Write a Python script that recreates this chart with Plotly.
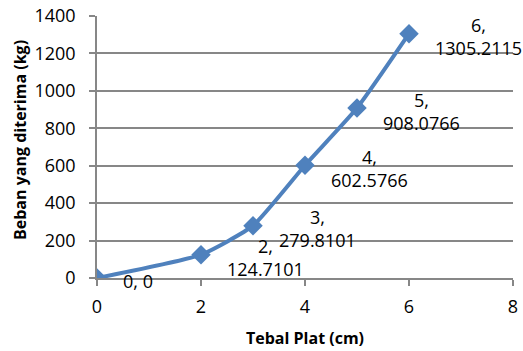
import plotly.graph_objects as go

tebal = [0, 2, 3, 4, 5, 6]
beban = [0, 124.7101, 279.8101, 602.5766, 908.0766, 1305.2115]
labels = ["0, 0", "2,<br>124.7101", "3,<br>279.8101", "4,<br>602.5766",
          "5,<br>908.0766", "6,<br>1305.2115"]
x_ticks = [0, 2, 4, 6, 8]
y_ticks = [0, 200, 400, 600, 800, 1000, 1200, 1400]

FONT = "'Open Sans', sans-serif"
BLUE = "#4F81BD"
GRID = "#878787"

fig = go.Figure()
fig.add_trace(go.Scatter(
    x=tebal, y=beban, mode="lines+markers",
    line=dict(color=BLUE, width=4, shape="spline", smoothing=0.5),
    marker=dict(symbol="diamond", size=15, color=BLUE),
    showlegend=False, hoverinfo="skip",
))

for xv, yv, t in zip(tebal, beban, labels):
    fig.add_annotation(x=xv, y=yv, text=t, showarrow=False,
                       xanchor="left", yanchor="middle", align="center",
                       xshift=24, yshift=-3,
                       font=dict(family=FONT, size=18, color="#000"))

fig.add_annotation(xref="paper", yref="paper", x=-0.185, y=0.527,
                   text="<b>Beban yang diterima (kg)</b>", textangle=-90,
                   showarrow=False, xanchor="center", yanchor="middle",
                   font=dict(family=FONT, size=16, color="#000"))
fig.add_annotation(xref="paper", yref="paper", x=0.5, y=-0.229,
                   text="<b>Tebal Plat (cm)</b>",
                   showarrow=False, xanchor="center", yanchor="middle",
                   font=dict(family=FONT, size=16, color="#000"))

fig.update_layout(
    width=523, height=351,
    margin=dict(l=97, r=10, t=16, b=73),
    paper_bgcolor="white", plot_bgcolor="white",
    font=dict(family=FONT, size=18, color="#000"),
)
fig.update_xaxes(
    range=[0, 8], tickvals=x_ticks, showgrid=False, zeroline=False,
    showline=True, linecolor=GRID, linewidth=1.5, automargin=False,
    ticks="outside", ticklen=6, tickcolor=GRID, tickwidth=1.5,
    ticklabelstandoff=6,
)
fig.update_yaxes(
    range=[0, 1400], tickvals=y_ticks, showgrid=True, gridcolor=GRID, gridwidth=1.5,
    zeroline=False, showline=True, linecolor=GRID, linewidth=1.5, automargin=False,
    ticks="outside", ticklen=6, tickcolor=GRID, tickwidth=1.5,
    ticklabelstandoff=10,
)

fig.write_html("out.html", config={"displayModeBar": False},
               post_script="document.body.style.margin='0';document.body.style.overflow='hidden';")
